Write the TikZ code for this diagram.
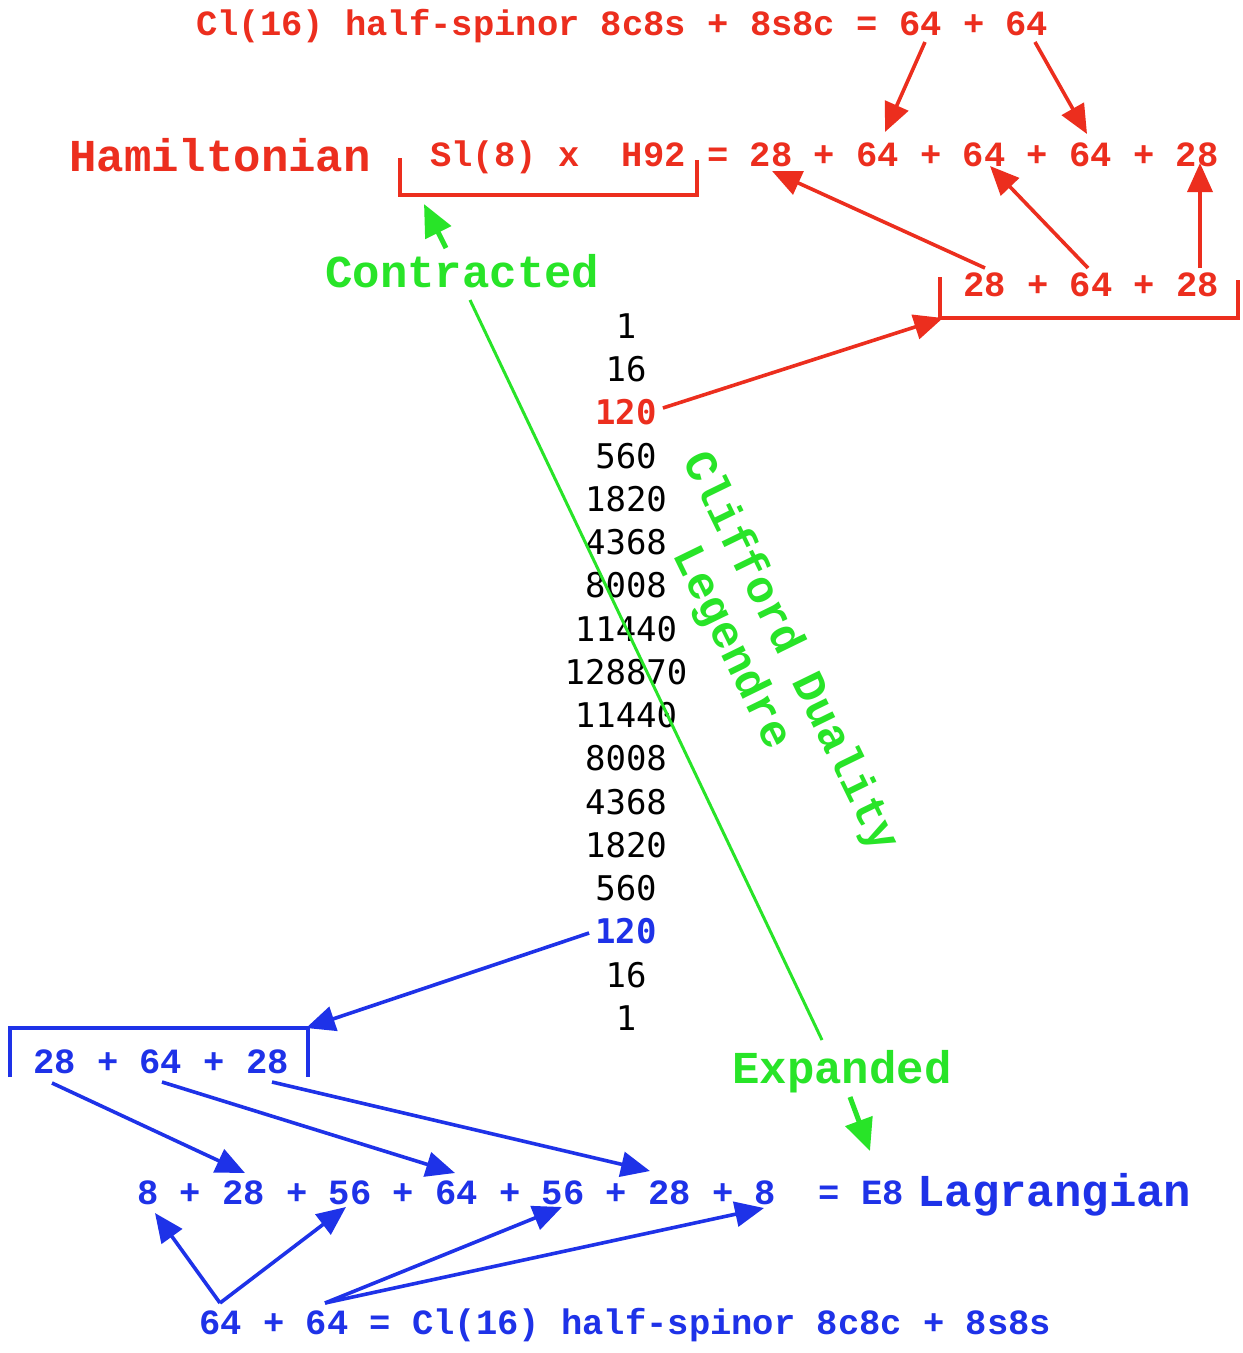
\documentclass[tikz,border=0pt]{standalone}
\usepackage{fontspec}
\setmainfont{Liberation Mono}
\newfontfamily\numfont{DejaVu Sans Mono}
\usetikzlibrary{arrows.meta}
\definecolor{hred}{RGB}{236,46,30}
\definecolor{hblue}{RGB}{30,50,232}
\definecolor{hgreen}{RGB}{40,228,40}
\begin{document}
\begin{tikzpicture}[x=1pt,y=-1pt,
  lbl/.style={inner sep=0pt,anchor=base west,font=\fontsize{35.5}{40}\selectfont\bfseries},
  big/.style={inner sep=0pt,anchor=base west,font=\fontsize{45.7}{50}\selectfont\bfseries},
  rot/.style={inner sep=0pt,anchor=center,rotate=-64,font=\fontsize{45.7}{50}\selectfont\bfseries,text=hgreen},
  num/.style={inner sep=0pt,anchor=center,font=\numfont\fontsize{34}{40}\selectfont},
  arr/.style={line width=3.6pt,-{Triangle[length=29pt,width=25pt]}},
  garr/.style={line width=5pt,hgreen,-{Triangle[length=32pt,width=28pt]}},
  brk/.style={line width=3.2pt}]
\useasboundingbox (0,0) rectangle (1243,1353);
\fill[white] (0,0) rectangle (1243,1353);

% ---------- red (Hamiltonian) part ----------
\node[lbl,text=hred] (top) at (196,35) {Cl(16) half-spinor 8c8s + 8s8c = 64 + 64};
\node[big,text=hred] (ham) at (69,171) {Hamiltonian};
\node[lbl,text=hred] (slh) at (430,166) {Sl(8) x\ \ H92};
\node[lbl,text=hred] (hsum) at (707,166) {= 28 + 64 + 64 + 64 + 28};
\node[lbl,text=hred] (rsum) at (963,296) {28 + 64 + 28};
\draw[brk,hred] (400,158) -- (400,195) -- (697,195) -- (697,160);
\draw[brk,hred] (940,277) -- (940,318) -- (1238,318) -- (1238,280);

\coordinate (t64a) at (925,42);
\coordinate (t64b) at (1035,42);
\coordinate (h64a) at (885,132);
\coordinate (h64c) at (1087,134);
\coordinate (h28a) at (772,171);
\coordinate (h64b) at (990,166);
\coordinate (h28b) at (1200,163);
\coordinate (r28a) at (985,268);
\coordinate (r64) at (1088,268);
\coordinate (r28b) at (1200,268);
\coordinate (rcorner) at (943,318);

\draw[arr,hred] (t64a) -- (h64a);
\draw[arr,hred] (t64b) -- (h64c);
\draw[arr,hred] (r28a) -- (h28a);
\draw[arr,hred] (r64) -- (h64b);
\draw[arr,hred] (r28b) -- (h28b);

% ---------- central column ----------
\node[num] (c1) at (626,326) {1};
\node[num] (c2) at (626,369) {16};
\node[num,text=hred,font=\numfont\bfseries\fontsize{34}{40}\selectfont] (c3) at (626,412) {120};
\node[num] (c4) at (626,456) {560};
\node[num] (c5) at (626,499) {1820};
\node[num] (c6) at (626,542) {4368};
\node[num] (c7) at (626,585) {8008};
\node[num] (c8) at (626,629) {11440};
\node[num] (c9) at (626,672) {128870};
\node[num] (c10) at (626,715) {11440};
\node[num] (c11) at (626,758) {8008};
\node[num] (c12) at (626,802) {4368};
\node[num] (c13) at (626,845) {1820};
\node[num] (c14) at (626,888) {560};
\node[num,text=hblue,font=\numfont\bfseries\fontsize{34}{40}\selectfont] (c15) at (626,931) {120};
\node[num] (c16) at (626,975) {16};
\node[num] (c17) at (626,1018) {1};

\draw[arr,hred] (c3.east) ++(6,-4) coordinate (c3t) -- (rcorner);

% ---------- green part ----------
\node[big,text=hgreen] (con) at (325,287) {Contracted};
\node[big,text=hgreen] (exp) at (732,1083) {Expanded};
\node[rot] (cd) at (790,652) {Clifford Duality};
\node[rot] (leg) at (731,648) {Legendre};
\coordinate (gA) at (470,300);
\coordinate (gB) at (822,1040);
\draw[line width=3pt,hgreen] (gA) -- (gB);
\coordinate (ca1) at (446,248);
\coordinate (ca2) at (424,204);
\coordinate (ea1) at (850,1097);
\coordinate (ea2) at (870,1151);
\draw[garr] (ca1) -- (ca2);
\draw[garr] (ea1) -- (ea2);

% ---------- blue (Lagrangian) part ----------
\node[lbl,text=hblue] (lsum) at (33,1073) {28 + 64 + 28};
\draw[brk,hblue] (10,1077) -- (10,1028) -- (308,1028) -- (308,1077);
\node[lbl,text=hblue] (brow) at (137,1204) {8 + 28 + 56 + 64 + 56 + 28 + 8\ \ = E8};
\node[big,text=hblue] (lag) at (917,1206) {Lagrangian};
\node[lbl,text=hblue] (bot) at (199,1334) {64 + 64 = Cl(16) half-spinor 8c8c + 8s8s};

\coordinate (bcorner) at (306,1028);
\coordinate (l28a) at (52,1083);
\coordinate (l64) at (162,1082);
\coordinate (l28b) at (272,1082);
\coordinate (b28a) at (245,1173);
\coordinate (b64) at (455,1173);
\coordinate (b28b) at (650,1171);
\coordinate (b8a) at (155,1213);
\coordinate (b56a) at (346,1207);
\coordinate (b56b) at (562,1207);
\coordinate (b8b) at (764,1208);
\coordinate (s64a) at (220,1303);
\coordinate (s64b) at (325,1303);

\draw[arr,hblue] (c15.west) ++(-6,2) coordinate (c15t) -- (bcorner);
\draw[arr,hblue] (l28a) -- (b28a);
\draw[arr,hblue] (l64) -- (b64);
\draw[arr,hblue] (l28b) -- (b28b);
\draw[arr,hblue] (s64a) -- (b8a);
\draw[arr,hblue] (s64a) -- (b56a);
\draw[arr,hblue] (s64b) -- (b56b);
\draw[arr,hblue] (s64b) -- (b8b);
\end{tikzpicture}
\end{document}
